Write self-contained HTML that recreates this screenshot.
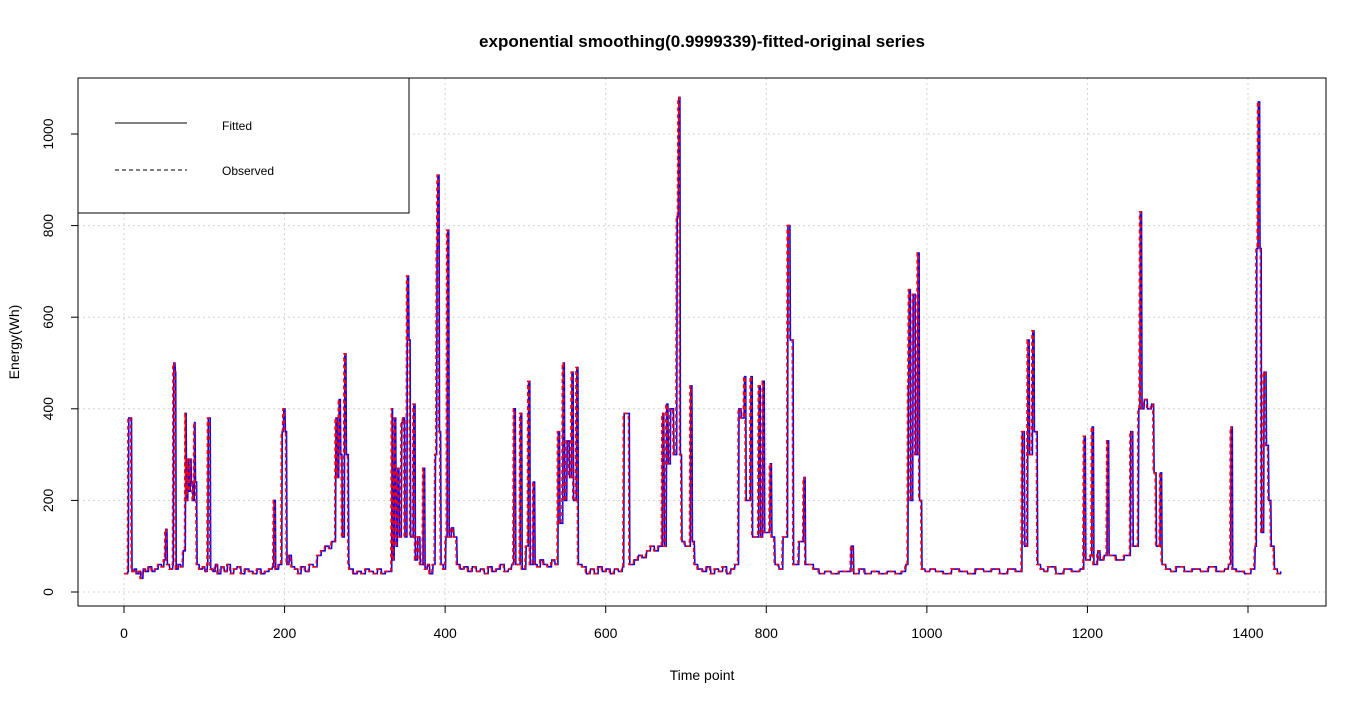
<!DOCTYPE html>
<html><head><meta charset="utf-8"><style>
body{margin:0;background:#fff;}
svg{display:block;font-family:"Liberation Sans",Arial,sans-serif;}
</style></head><body>
<svg id="chart" width="1366" height="705">
<text x="702" y="47" text-anchor="middle" font-size="17" font-weight="bold">exponential smoothing(0.9999339)-fitted-original series</text>
<g id="grid"></g>
<g id="axes"></g>
<g id="series"></g>
<rect x="78" y="78" width="1248" height="528" fill="none" stroke="#000"/>
<text x="702" y="680" text-anchor="middle" font-size="14">Time point</text>
<text transform="translate(19,342) rotate(-90)" text-anchor="middle" font-size="14">Energy(Wh)</text>
<g>
<rect x="78" y="78" width="331" height="135" fill="#fff" stroke="#000"/>
<line x1="115" y1="123" x2="187" y2="123" stroke="#000"/>
<text x="222" y="130" font-size="12">Fitted</text>
<line x1="115" y1="170" x2="187" y2="170" stroke="#000" stroke-dasharray="4,3"/>
<text x="222" y="175" font-size="12">Observed</text>
</g>
</svg>
<script>
const xTicks=[0,200,400,600,800,1000,1200,1400];
const yTicks=[0,200,400,600,800,1000];
const obsT=[
0,4,5,8,9,12,15,18,20,23,
26,30,34,38,42,46,49,51,53,56,
60,61,63,64,67,70,73,76,77,79,
80,82,83,85,87,88,90,93,97,100,
103,104,106,107,110,113,116,120,124,128,
132,136,140,145,150,155,160,165,170,175,
180,184,186,188,192,196,198,200,202,205,
208,212,216,220,225,230,235,240,245,250,
255,258,263,265,267,269,271,274,276,279,
280,285,290,295,300,305,310,315,320,325,
330,333,334,336,338,340,342,345,347,349,
352,354,356,360,362,365,368,372,374,377,
380,384,387,389,390,392,394,397,400,402,
404,407,410,414,418,423,428,433,438,443,
448,453,458,463,468,473,478,482,485,487,
490,493,495,500,503,505,509,511,514,518,
522,527,532,536,540,542,546,548,551,554,
557,559,563,565,570,575,580,585,590,595,
600,605,610,615,620,622,628,629,635,640,
645,650,655,660,665,670,672,675,677,680,
684,688,690,692,694,698,705,707,710,714,
720,725,730,735,740,745,750,755,760,763,
765,768,772,774,780,782,788,790,792,795,
797,804,806,810,815,820,826,829,833,836,
840,846,848,853,858,865,872,880,890,905,
908,915,922,930,940,950,960,968,973,976,
977,979,982,985,988,990,993,997,1003,1010,
1020,1030,1040,1050,1060,1070,1080,1090,1100,1110,
1118,1121,1125,1127,1131,1133,1137,1141,1145,1150,
1160,1170,1180,1190,1195,1197,1203,1205,1207,1212,
1215,1220,1224,1226,1235,1245,1253,1256,1263,1265,
1267,1270,1274,1279,1282,1285,1290,1292,1297,1303,
1310,1320,1330,1340,1350,1360,1370,1375,1378,1380,
1385,1395,1403,1408,1410,1412,1414,1416,1419,1422,
1425,1428,1432,1436,1440];
const obsV=[
40,45,380,380,45,50,40,45,30,50,
45,55,45,50,60,55,70,137,60,50,
60,500,480,50,60,55,90,390,200,290,
220,290,240,200,370,240,60,50,55,45,
60,380,380,50,45,60,40,55,45,60,
40,50,55,40,50,45,40,50,40,45,
50,55,200,50,60,350,400,350,60,80,
55,50,40,55,45,60,55,80,90,100,
95,110,380,250,420,300,120,520,300,60,
50,40,45,40,50,45,40,50,40,45,
45,400,70,380,100,270,120,370,380,120,
690,550,120,410,70,120,60,270,50,60,
40,60,300,750,910,350,60,50,120,790,
120,140,120,60,50,55,45,55,45,50,
40,55,45,50,60,45,50,60,400,60,
60,390,50,100,460,60,240,60,55,70,
60,55,70,60,350,150,500,200,330,250,
480,200,490,60,55,40,50,40,55,45,
50,40,50,45,55,390,390,60,70,80,
75,90,100,90,100,390,100,410,280,400,
300,820,1080,300,110,100,450,110,60,50,
45,55,40,50,45,55,40,50,60,60,
400,380,470,200,470,120,120,450,120,460,
130,280,120,60,50,120,800,550,60,60,
110,250,60,60,50,40,45,40,45,100,
40,50,40,45,40,45,40,45,60,450,
660,200,650,300,740,200,50,45,50,45,
40,50,45,40,50,45,50,40,50,45,
350,100,550,300,570,350,60,50,45,55,
40,50,45,50,340,70,80,360,60,90,
70,80,330,80,70,80,350,100,400,830,
400,420,400,410,260,100,260,60,50,45,
55,45,50,45,55,45,50,60,360,50,
45,40,50,100,750,1070,750,130,480,320,
200,100,50,40,45];

const X0=124,XS=1124/1400,Y0=592,YS=458/1000;
const xs=t=>X0+t*XS, ys=v=>Y0-v*YS;
const NS='http://www.w3.org/2000/svg';
const grid=document.getElementById('grid'),axes=document.getElementById('axes'),series=document.getElementById('series');
function mk(tag,attrs,parent){const e=document.createElementNS(NS,tag);for(const k in attrs)e.setAttribute(k,attrs[k]);parent.appendChild(e);return e;}
xTicks.forEach(t=>{
  const g=mk('line',{x1:xs(t),x2:xs(t),y1:78,y2:606,stroke:'#d3d3d3','stroke-dasharray':'2,3'},grid);
  
  
  const tk=mk('line',{x1:xs(t),x2:xs(t),y1:606,y2:613,stroke:'#000'},axes);
  
  
  const lb=mk('text',{x:xs(t),y:638,'text-anchor':'middle','font-size':14},axes);
  lb.textContent=t;
  
  
});
mk('line',{x1:xs(0),x2:xs(1400),y1:606,y2:606,stroke:'#000'},axes);
yTicks.forEach(v=>{
  const g=mk('line',{x1:78,x2:1326,y1:ys(v),y2:ys(v),stroke:'#d3d3d3','stroke-dasharray':'2,3'},grid);
  
  
  const tk=mk('line',{x1:71,x2:78,y1:ys(v),y2:ys(v),stroke:'#000'},axes);
  
  
  const lb=mk('text',{transform:`translate(53,${ys(v)}) rotate(-90)`,'text-anchor':'middle','font-size':14},axes);
  lb.textContent=v;
  
  
});
function pathFor(lag){
  let d='';
  const n=Math.min(obsT.length,obsV.length);
  for(let i=0;i<n;i++){
    const t=obsT[i]+lag, v=obsV[i];
    const tn=i+1<n?obsT[i+1]+lag-0.6:t;
    d+=(i?'L':'M')+xs(t).toFixed(1)+','+ys(v).toFixed(1)+'L'+xs(Math.max(t,tn)).toFixed(1)+','+ys(v).toFixed(1);
  }
  return d;
}
const fit=mk('path',{d:pathFor(1),fill:'none',stroke:'#0000ff','stroke-width':1.6},series);


const obs=mk('path',{d:pathFor(0),fill:'none',stroke:'#ff0000','stroke-width':1.6,'stroke-dasharray':'4,3'},series);


</script>
</body></html>
